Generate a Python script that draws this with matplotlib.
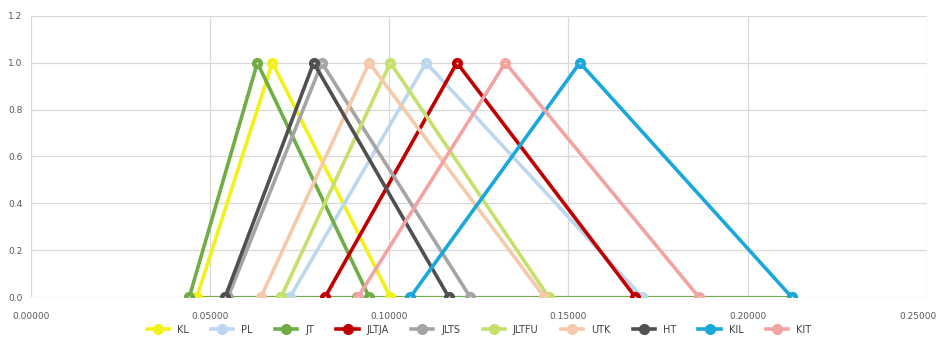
import matplotlib
matplotlib.use("Agg")
import matplotlib.pyplot as plt
from matplotlib.ticker import FormatStrFormatter
from matplotlib.transforms import ScaledTranslation

# triangular membership functions: (left zero, peak, right zero)
names = ['KL', 'PL', 'JT', 'JLTJA', 'JLTS', 'JLTFU', 'UTK', 'HT', 'KIL', 'KIT']
left = [0.0463, 0.0723, 0.0442, 0.0821, 0.0550, 0.0698, 0.0642, 0.0542, 0.1059, 0.0913]
peak = [0.0674, 0.1103, 0.0632, 0.1189, 0.0812, 0.1003, 0.0944, 0.0789, 0.1532, 0.1324]
right = [0.1003, 0.1706, 0.0944, 0.1687, 0.1226, 0.1445, 0.1433, 0.1166, 0.2123, 0.1864]
colors = ['#f2f21a', '#bdd7ee', '#70ad47', '#c00000', '#a5a5a5',
          '#c5e06b', '#f6c9aa', '#505050', '#1aa7dc', '#f2a3a3']

# green baseline running along zero
base_x = [0.0442, 0.0542, 0.0698, 0.0910, 0.2123]
base_y = [0, 0, 0, 0, 0]

fig = plt.figure(figsize=(9.37, 3.38), dpi=100)
ax = fig.add_axes([0.033, 0.121, 0.956, 0.832])

ax.plot(base_x, base_y, color='#70ad47', lw=1.6, marker='o', ms=7, zorder=2)

for i, name in enumerate(names):
    ax.plot([left[i], peak[i], right[i]], [0, 1, 0], color=colors[i], lw=2.6,
            marker='o', ms=7, mfc=colors[i], mec=colors[i], label=name, zorder=3 + i)
    # little light dot in the marker centre
    ax.plot([left[i], peak[i], right[i]], [0, 1, 0], ls='none', marker='o', ms=1.5,
            mfc='#e8e8c0', mec='none', zorder=3 + i)

ax.set_xlim(0, 0.25)
ax.set_ylim(0, 1.2)
ax.set_xticks([0, 0.05, 0.10, 0.15, 0.20, 0.25])
ax.set_yticks([0, 0.2, 0.4, 0.6, 0.8, 1.0, 1.2])
ax.xaxis.set_major_formatter(FormatStrFormatter('%.5f'))
ax.yaxis.set_major_formatter(FormatStrFormatter('%.1f'))
ax.grid(True, color='#d9d9d9', lw=0.9)
ax.set_axisbelow(True)
for s in ax.spines.values():
    s.set_visible(False)
ax.tick_params(length=0, labelsize=6.5, labelcolor='#595959')
ax.tick_params(axis='x', pad=11)
ax.tick_params(axis='y', pad=6)

# last x label sits against the right edge, nudge it in a bit
lastlab = ax.get_xticklabels()[-1]
lastlab.set_transform(lastlab.get_transform() + ScaledTranslation(-6 / 72, 0, fig.dpi_scale_trans))

fig.legend(loc='center', bbox_to_anchor=(0.511, 0.024), ncol=10, frameon=False,
           fontsize=7, handlelength=2.3, handletextpad=0.8, columnspacing=2.3,
           labelcolor='#404040')

fig.savefig('out.png', dpi=100)
